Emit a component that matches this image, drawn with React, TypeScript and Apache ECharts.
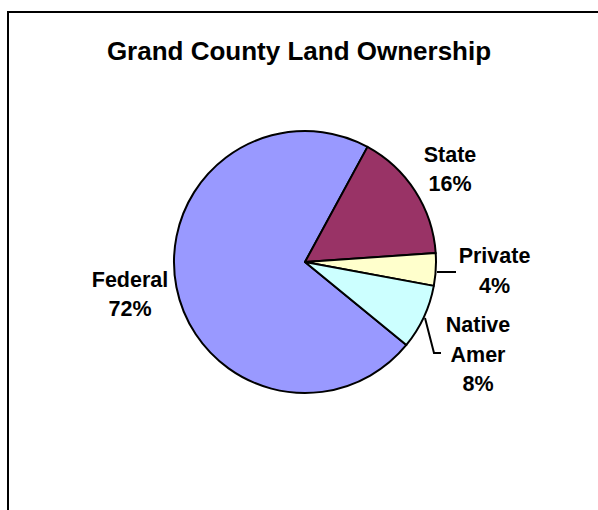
import React, { useEffect, useRef } from "react";
import * as echarts from "echarts";

const categories = ["Federal", "State", "Private", "Native Amer"];
const values = [72, 16, 4, 8];
const colors = ["#9999FF", "#993366", "#FFFFCC", "#CCFFFF"];
const titleText = "Grand County Land Ownership";

// label block centres and leader lines (layout only)
const labelCenters: Record<string, [number, number]> = {
  Federal: [130, 294.5],
  State: [450, 169.5],
  Private: [494.5, 271],
  "Native Amer": [478, 354.5],
};
const leaderLines: Record<string, number[][] | null> = {
  Federal: null,
  State: null,
  Private: [[437, 272], [446, 272], [456, 272]],
  "Native Amer": [[425, 318], [434, 353], [441, 353]],
};

export default function App() {
  const ref = useRef<HTMLDivElement>(null);
  useEffect(() => {
    if (!ref.current) return;
    const chart = echarts.init(ref.current, null, { renderer: "svg" });
    const font = "'Liberation Sans', Arial, sans-serif";
    chart.setOption({
      animation: false,
      backgroundColor: "#ffffff",
      title: {
        text: titleText,
        left: "center",
        top: 33,
        textStyle: { fontFamily: font, fontSize: 26, fontWeight: "bold", color: "#000" },
      },
      graphic: [
        {
          type: "rect",
          shape: { x: 8, y: 12, width: 700, height: 600 },
          style: { fill: "none", stroke: "#000", lineWidth: 2 },
          silent: true,
        },
      ],
      series: [
        {
          type: "pie",
          center: [305, 262],
          radius: 131,
          startAngle: 320.7,
          clockwise: true,
          data: categories.map((c, i) => ({
            name: c,
            value: values[i],
            itemStyle: { color: colors[i] },
            labelLine: { show: !!leaderLines[c] },
          })),
          itemStyle: { borderColor: "#000", borderWidth: 2 },
          emphasis: { disabled: true },
          label: {
            show: true,
            formatter: (p: any) => p.name.replace(" ", "\n") + "\n" + Math.round(p.percent) + "%",
            fontFamily: font,
            fontSize: 21.5,
            fontWeight: "bold",
            color: "#000",
            lineHeight: 29.5,
            align: "center",
          },
          labelLine: { lineStyle: { color: "#000", width: 2 } },
          labelLayout: (params: any) => {
            const name = categories[params.dataIndex];
            const [x, y] = labelCenters[name];
            const res: any = { x, y, align: "center", verticalAlign: "middle" };
            if (leaderLines[name]) res.labelLinePoints = leaderLines[name];
            return res;
          },
        },
      ],
    });
    return () => chart.dispose();
  }, []);
  return (
    <div
      ref={ref}
      style={{ position: "fixed", left: 0, top: 0, width: 598, height: 510 }}
    />
  );
}
